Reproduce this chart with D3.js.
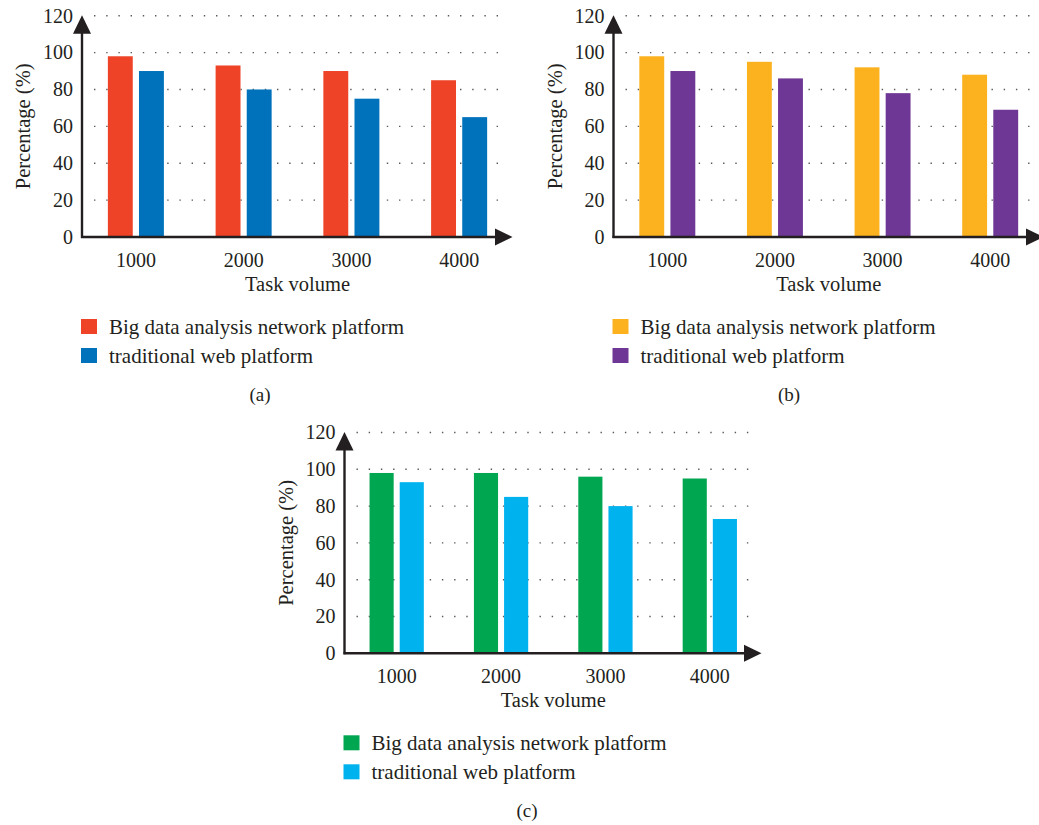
<!DOCTYPE html>
<html>
<head>
<meta charset="utf-8">
<title>Task volume bar charts</title>
<script src="https://d3js.org/d3.v7.min.js"></script>
<style>
  body { margin: 0; background: #fff; }
  text { font-family: "Liberation Serif", "Times New Roman", serif; fill: #231f20; }
</style>
</head>
<body>
<script>
const categories = ["1000", "2000", "3000", "4000"];
const seriesNames = ["Big data analysis network platform", "traditional web platform"];
const yTicks = [0, 20, 40, 60, 80, 100, 120];

// panel (a)
const bigDataA = [98, 93, 90, 85];
const webA = [90, 80, 75, 65];
// panel (b)
const bigDataB = [98, 95, 92, 88];
const webB = [90, 86, 78, 69];
// panel (c)
const bigDataC = [98, 98, 96, 95];
const webC = [93, 85, 80, 73];

const panels = [
  { tag: "(a)", big: bigDataA, web: webA, colors: ["#ee4326", "#0072bc"], x0: 82, x1: 513, y0: 237, y1: 15.7, tagX: 260 },
  { tag: "(b)", big: bigDataB, web: webB, colors: ["#fbb21e", "#6e3795"], x0: 613.5, x1: 1044, y0: 237, y1: 15.7, tagX: 789 },
  { tag: "(c)", big: bigDataC, web: webC, colors: ["#00a650", "#00b2ee"], x0: 344.5, x1: 762, y0: 653.3, y1: 432.5, tagX: 527 }
];

const svg = d3.select("body").append("svg")
  .attr("width", 1039)
  .attr("height", 825);

const ink = "#231f20";

function drawPanel(p) {
  const g = svg.append("g");
  const y = d3.scaleLinear().domain([0, 120]).range([p.y0, p.y1]);
  const x = d3.scaleBand().domain(categories).range([p.x0, p.x1])
    .paddingInner(0.48).paddingOuter(0.24);
  const xs = d3.scaleBand().domain([0, 1]).range([0, x.bandwidth()]).paddingInner(0.2);

  // dotted grid
  g.selectAll(".grid")
    .data(yTicks.filter(d => d > 0)).join("line")
    .attr("x1", p.x0 + 12).attr("x2", p.x1 - 9)
    .attr("y1", d => y(d)).attr("y2", d => y(d))
    .attr("stroke", "#58595b").attr("stroke-width", 1.4)
    .attr("stroke-dasharray", "1.4 10.8");

  // bars
  const rows = categories.map((c, i) => ({ cat: c, vals: [p.big[i], p.web[i]] }));
  g.selectAll(".grp").data(rows).join("g")
    .attr("transform", d => `translate(${x(d.cat)},0)`)
    .selectAll("rect").data(d => d.vals).join("rect")
    .attr("x", (d, i) => xs(i))
    .attr("width", xs.bandwidth())
    .attr("y", d => y(d))
    .attr("height", d => y(0) - y(d))
    .attr("fill", (d, i) => p.colors[i]);

  // axes
  const yAxis = d3.axisLeft(y).tickValues(yTicks).tickSize(0).tickPadding(9);
  g.append("g").attr("transform", `translate(${p.x0},0)`).call(yAxis)
    .call(a => a.select(".domain").remove())
    .selectAll("text").style("font-size", "20px").style("font-family", "Liberation Serif");

  const xAxis = d3.axisBottom(x).tickSize(0).tickPadding(16);
  g.append("g").attr("transform", `translate(0,${p.y0})`).call(xAxis)
    .call(a => a.select(".domain").remove())
    .selectAll("text").style("font-size", "20px").style("font-family", "Liberation Serif");

  g.append("line").attr("x1", p.x0).attr("x2", p.x0).attr("y1", p.y0 + 1).attr("y2", p.y1 + 12)
    .attr("stroke", ink).attr("stroke-width", 2.4);
  g.append("line").attr("x1", p.x0 - 1).attr("x2", p.x1 - 10).attr("y1", p.y0).attr("y2", p.y0)
    .attr("stroke", ink).attr("stroke-width", 2.4);
  g.append("path")
    .attr("d", `M${p.x0},${p.y1 - 0.5} L${p.x0 - 9},${p.y1 + 18} L${p.x0 + 9},${p.y1 + 18} Z`)
    .attr("fill", ink);
  g.append("path")
    .attr("d", `M${p.x1 - 0.5},${p.y0} L${p.x1 - 18},${p.y0 - 8.5} L${p.x1 - 18},${p.y0 + 8.5} Z`)
    .attr("fill", ink);

  // axis titles
  g.append("text")
    .attr("transform", `translate(${p.x0 - 59},${(p.y0 + p.y1) / 2}) rotate(-90)`)
    .attr("text-anchor", "middle").attr("dy", "0.35em")
    .style("font-size", "20.5px")
    .text("Percentage (%)");
  g.append("text")
    .attr("x", (p.x0 + p.x1) / 2).attr("y", p.y0 + 54)
    .attr("text-anchor", "middle")
    .style("font-size", "20.5px")
    .text("Task volume");

  // legend
  const lg = g.append("g").attr("transform", `translate(${p.x0 - 1},${p.y0 + 82})`);
  const item = lg.selectAll("g").data(seriesNames).join("g")
    .attr("transform", (d, i) => `translate(0,${i * 29})`);
  item.append("rect").attr("width", 16).attr("height", 15)
    .attr("fill", (d, i) => p.colors[i]);
  item.append("text").attr("x", 28).attr("y", 15)
    .style("font-size", "21px").text(d => d);

  g.append("text")
    .attr("x", p.tagX).attr("y", p.y0 + 164)
    .attr("text-anchor", "middle")
    .style("font-size", "19px")
    .text(p.tag);
}

panels.forEach(drawPanel);
</script>
</body>
</html>
